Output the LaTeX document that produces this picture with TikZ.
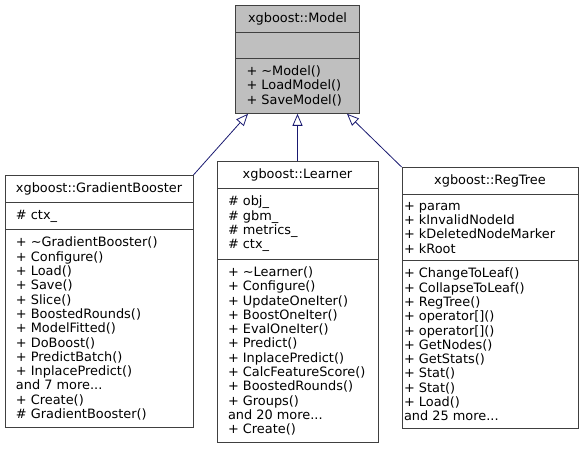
\documentclass[tikz,border=0pt]{standalone}
\usepackage{fontspec}
\setmainfont{DejaVu Sans}
\usepackage{xcolor}
\usetikzlibrary{shapes.multipart,arrows.meta}
\definecolor{edgeblue}{HTML}{191970}
\definecolor{boxgray}{HTML}{BFBFBF}
\definecolor{linegray}{HTML}{404040}

\begin{document}
\begin{tikzpicture}[x=1pt,y=-1pt,
  cls/.style={rectangle split,rectangle split parts=3,draw=linegray,line width=0.8pt,
    fill=white,rectangle split part align={center,left,left},align=left,anchor=north,
    inner xsep=11pt,inner ysep=7pt,font=\fontsize{12.9}{14.3}\selectfont},
  inherit/.style={draw=edgeblue,line width=0.8pt,-{Triangle[open,length=12pt,width=10pt]}}]
  \useasboundingbox (0,0) rectangle (583,448);
  % base class
  \node[cls,fill=boxgray,minimum width=124pt] (model) at (297.5,5)
    {xgboost::Model
     \nodepart{second}\rule{0pt}{11pt}
     \nodepart{third}+ \textasciitilde Model()\\+ LoadModel()\\+ SaveModel()};
  % derived classes
  \node[cls,minimum width=188pt] (gb) at (99,175)
    {xgboost::GradientBooster
     \nodepart{second}\# ctx\_
     \nodepart{third}+ \textasciitilde GradientBooster()\\+ Configure()\\+ Load()\\+ Save()\\
     + Slice()\\+ BoostedRounds()\\+ ModelFitted()\\+ DoBoost()\\+ PredictBatch()\\
     + InplacePredict()\\and 7 more...\\+ Create()\\\# GradientBooster()};
  \node[cls,minimum width=161pt] (learner) at (297.5,161)
    {xgboost::Learner
     \nodepart{second}\# obj\_\\\# gbm\_\\\# metrics\_\\\# ctx\_
     \nodepart{third}+ \textasciitilde Learner()\\+ Configure()\\+ UpdateOneIter()\\
     + BoostOneIter()\\+ EvalOneIter()\\+ Predict()\\+ InplacePredict()\\
     + CalcFeatureScore()\\+ BoostedRounds()\\+ Groups()\\and 20 more...\\+ Create()};
  \node[cls,minimum width=176pt,inner xsep=2pt] (regtree) at (490,167)
    {xgboost::RegTree
     \nodepart{second}+ param\\+ kInvalidNodeId\\+ kDeletedNodeMarker\\+ kRoot
     \nodepart{third}+ ChangeToLeaf()\\+ CollapseToLeaf()\\+ RegTree()\\+ operator[]()\\
     + operator[]()\\+ GetNodes()\\+ GetStats()\\+ Stat()\\+ Stat()\\+ Load()\\and 25 more...};
  % inheritance
  \path (model.south) ++(-49.5,0) coordinate (tgb);
  \path (model.south) ++(49.5,0) coordinate (treg);
  \draw[inherit] (gb.north east) -- (tgb);
  \draw[inherit] (learner.north) -- (learner.north |- model.south);
  \draw[inherit] (regtree.north west) -- (treg);
\end{tikzpicture}
\end{document}
